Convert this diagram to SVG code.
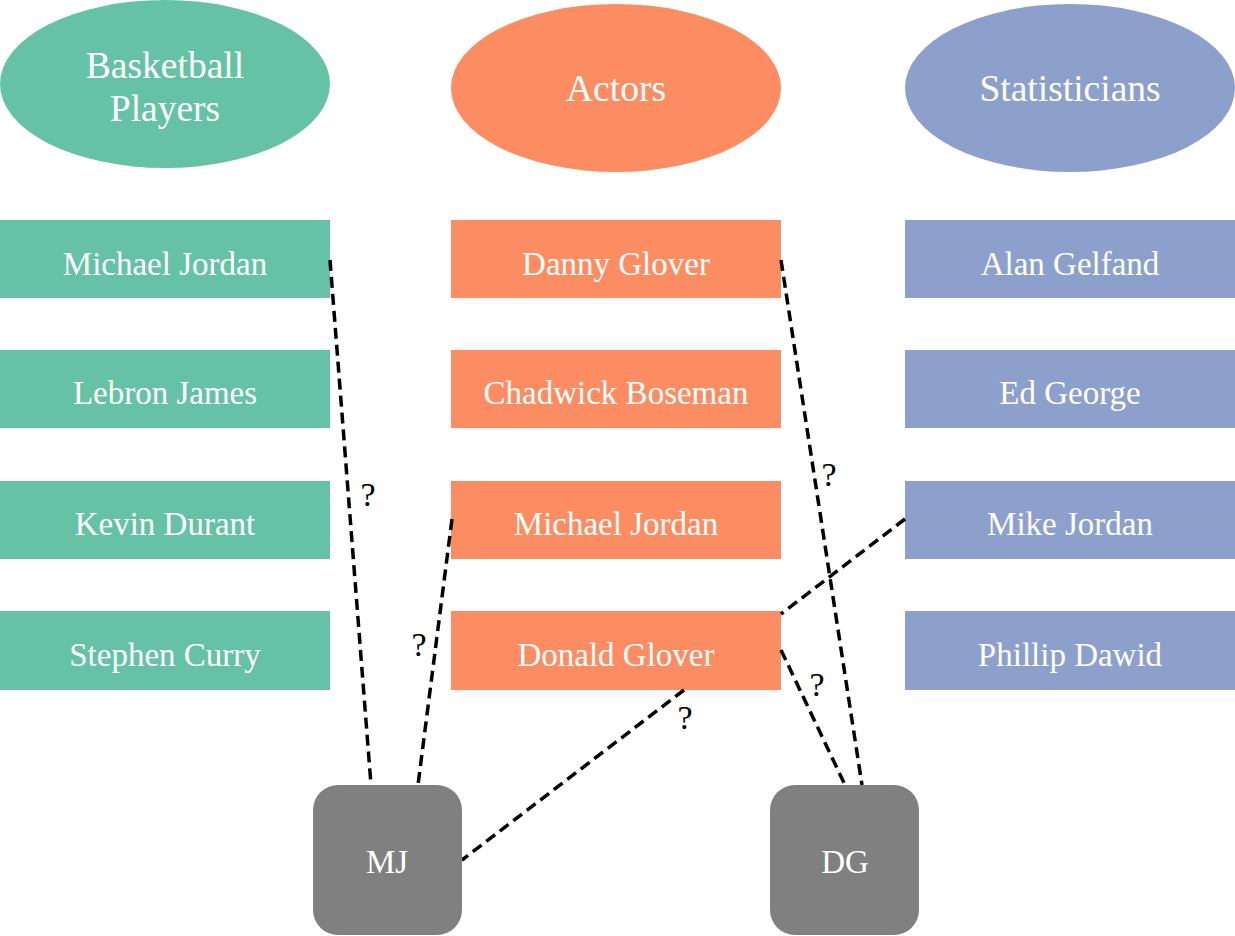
<svg xmlns="http://www.w3.org/2000/svg" width="1235" height="936" viewBox="0 0 1235 936">
<style>
text{font-family:"Liberation Serif","Times New Roman",serif;fill:#fff;text-anchor:middle;dominant-baseline:central}
.t{font-size:37.5px}
.n{font-size:33px}
.g{fill:#66c2a5}
.o{fill:#fc8d62}
.b{fill:#8da0cb}
.k{fill:#808080}
.e{stroke:#000;stroke-width:3.5;stroke-dasharray:11,6;fill:none}
.q{fill:#000;font-size:34px}
</style>
<rect width="1235" height="936" fill="#fff"/>
<g id="bp"><ellipse class="g" cx="165" cy="84" rx="165" ry="84"/><text class="t" x="165" y="65">Basketball</text><text class="t" x="165" y="108">Players</text></g>
<g id="actors"><ellipse class="o" cx="616" cy="88" rx="165" ry="84"/><text class="t" x="616" y="88">Actors</text></g>
<g id="stats"><ellipse class="b" cx="1070" cy="88" rx="165" ry="84"/><text class="t" x="1070" y="88">Statisticians</text></g>
<g id="b1"><rect class="g" x="0" y="220" width="330" height="78"/><text class="n" x="165" y="264">Michael Jordan</text></g>
<g id="b2"><rect class="g" x="0" y="350" width="330" height="78"/><text class="n" x="165" y="393">Lebron James</text></g>
<g id="b3"><rect class="g" x="0" y="481" width="330" height="78"/><text class="n" x="165" y="524">Kevin Durant</text></g>
<g id="b4"><rect class="g" x="0" y="611" width="330" height="79"/><text class="n" x="165" y="655">Stephen Curry</text></g>
<g id="a1"><rect class="o" x="451" y="220" width="330" height="78"/><text class="n" x="616" y="264">Danny Glover</text></g>
<g id="a2"><rect class="o" x="451" y="350" width="330" height="78"/><text class="n" x="616" y="393">Chadwick Boseman</text></g>
<g id="a3"><rect class="o" x="451" y="481" width="330" height="78"/><text class="n" x="616" y="524">Michael Jordan</text></g>
<g id="a4"><rect class="o" x="451" y="611" width="330" height="79"/><text class="n" x="616" y="655">Donald Glover</text></g>
<g id="s1"><rect class="b" x="905" y="220" width="330" height="78"/><text class="n" x="1070" y="264">Alan Gelfand</text></g>
<g id="s2"><rect class="b" x="905" y="350" width="330" height="78"/><text class="n" x="1070" y="393">Ed George</text></g>
<g id="s3"><rect class="b" x="905" y="481" width="330" height="78"/><text class="n" x="1070" y="524">Mike Jordan</text></g>
<g id="s4"><rect class="b" x="905" y="611" width="330" height="79"/><text class="n" x="1070" y="655">Phillip Dawid</text></g>
<g id="connectors">
<line class="e" x1="330" y1="260" x2="371" y2="785"/>
<line class="e" x1="452" y1="519" x2="418" y2="785"/>
<line class="e" x1="684" y1="690" x2="462" y2="860"/>
<line class="e" x1="781" y1="260" x2="862" y2="785"/>
<line class="e" x1="905" y1="519" x2="781" y2="614"/>
<line class="e" x1="781" y1="650" x2="845" y2="785"/>
<text class="q" x="368" y="494">?</text>
<text class="q" x="419" y="644">?</text>
<text class="q" x="685" y="717">?</text>
<text class="q" x="829" y="474">?</text>
<text class="q" x="817" y="684">?</text>
</g>
<g id="mj"><rect class="k" x="313" y="785" width="149" height="150" rx="25"/><text class="n" x="387" y="862">MJ</text></g>
<g id="dg"><rect class="k" x="770" y="785" width="149" height="150" rx="25"/><text class="n" x="845" y="862">DG</text></g>
</svg>
